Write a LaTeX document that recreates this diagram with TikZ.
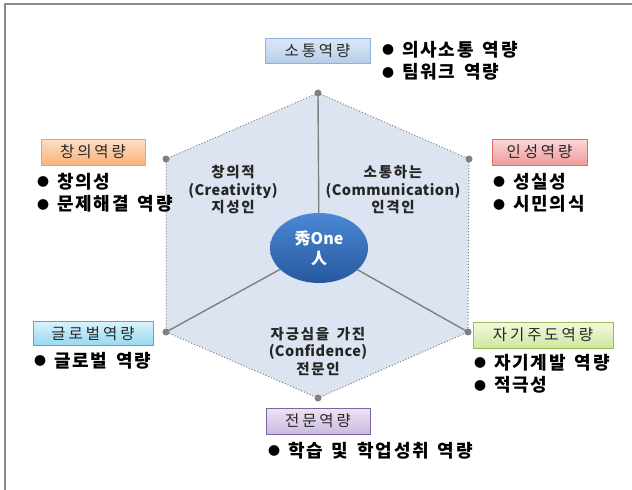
\documentclass[tikz,border=0pt]{standalone}
\usepackage{fontspec}
\setmainfont{Noto Sans CJK KR}
\newfontfamily\tagfont{Noto Sans CJK KR}[LetterSpace=19]
\newfontfamily\listfont{Noto Sans CJK KR}[LetterSpace=10,WordSpace=1.5]
\newfontfamily\innerfont{Noto Sans CJK KR}[LetterSpace=3]
\newfontfamily\innerko{Noto Sans CJK KR}[LetterSpace=12,WordSpace=1.5]
\newcommand{\blt}{\raisebox{1.5pt}{\fontsize{12}{12}\selectfont ●}\hspace{8pt}}
\usetikzlibrary{shapes.geometric}
\definecolor{framec}{RGB}{138,138,138}
\definecolor{hexc}{RGB}{219,228,240}
\definecolor{greyc}{RGB}{128,128,128}
\definecolor{inkc}{RGB}{38,38,38}
\definecolor{bluetop}{RGB}{220,231,245}\definecolor{bluebot}{RGB}{184,205,235}\definecolor{blueline}{RGB}{141,178,226}
\definecolor{orgtop}{RGB}{253,222,196}\definecolor{orgbot}{RGB}{249,178,124}\definecolor{orgline}{RGB}{244,160,96}
\definecolor{redtop}{RGB}{250,214,214}\definecolor{redbot}{RGB}{238,156,156}\definecolor{redline}{RGB}{224,110,110}
\definecolor{cyntop}{RGB}{218,242,251}\definecolor{cynbot}{RGB}{150,216,240}\definecolor{cynline}{RGB}{80,172,200}
\definecolor{grntop}{RGB}{243,249,222}\definecolor{grnbot}{RGB}{208,230,160}\definecolor{grnline}{RGB}{155,187,89}
\definecolor{purtop}{RGB}{236,228,244}\definecolor{purbot}{RGB}{204,186,226}\definecolor{purline}{RGB}{128,100,162}
\definecolor{onetop}{RGB}{74,137,212}\definecolor{onebot}{RGB}{40,88,158}

\begin{document}
\begin{tikzpicture}[x=1pt, y=-1pt,
  every node/.style={inner sep=0pt},
  tag/.style={draw=#1line, top color=#1top, bottom color=#1bot, line width=1pt,
              text=inkc, font=\tagfont\fontsize{15.5}{18}\selectfont},
  list/.style={anchor=north west, align=left, text=black,
               font=\listfont\fontsize{18}{22.5}\selectfont\bfseries},
  inner/.style={align=center, text=inkc, font=\innerfont\fontsize{14.5}{17.5}\selectfont\bfseries},
  spoke/.style={draw=greyc, line width=1.4pt},
  edge/.style={draw=greyc, dotted, line width=1pt}
]
\useasboundingbox (0,0) rectangle (632,490);
\draw[framec, line width=2pt] (5,490) -- (5,4) -- (632,4);

% hexagon
\coordinate (vt)  at (318,93);
\coordinate (vur) at (469,159);
\coordinate (vlr) at (468,332);
\coordinate (vb)  at (318,398);
\coordinate (vll) at (166,332);
\coordinate (vul) at (166,159);
\fill[hexc] (vt) -- (vur) -- (vlr) -- (vb) -- (vll) -- (vul) -- cycle;
\draw[edge] (vt) -- (vur) -- (vlr) -- (vb) -- (vll) -- (vul) -- cycle;

\node[ellipse, minimum width=98pt, minimum height=70pt, top color=onetop, bottom color=onebot,
      text=white, align=center, font=\fontsize{16}{20}\selectfont\bfseries] (one) at (319,248) {秀One\\人};
\draw[spoke] (one) -- (vt);
\draw[spoke] (one) -- (vll);
\draw[spoke] (one) -- (vlr);
\foreach \v in {vt,vur,vlr,vb,vll,vul}
  \fill[greyc] (\v) circle (3.5pt);

\node[inner] (crealbl) at (233,190) {{\innerko 창의적}\\(Creativity)\\{\innerko 지성인}};
\node[inner] (commlbl) at (393,190) {{\innerko 소통하는}\\(Communication)\\{\innerko 인격인}};
\node[inner] (proflbl) at (318,351) {{\innerko 자긍심을 가진}\\(Confidence)\\{\innerko 전문인}};

% competences
\node[tag=blue, minimum width=105pt, minimum height=25pt] (comm) at (317.5,50.5) {소통역량};
\node[tag=org,  minimum width=104pt, minimum height=26pt] (crea) at (93,152) {창의역량};
\node[tag=red,  minimum width=95pt,  minimum height=26pt] (pers) at (539.5,152) {인성역량};
\node[tag=cyn,  minimum width=120pt, minimum height=24pt] (glob) at (93,333.5) {글로벌역량};
\node[tag=grn,  minimum width=140pt, minimum height=26pt] (self) at (543,335) {자기주도역량};
\node[tag=pur,  minimum width=104pt, minimum height=26pt] (prof) at (318,421) {전문역량};

\node[list] (commlist) at (382,41) {\blt 의사소통 역량\\\blt 팀워크 역량};
\node[list] (crealist) at (37,173) {\blt 창의성\\\blt 문제해결 역량};
\node[list] (perslist) at (493,173) {\blt 성실성\\\blt 시민의식};
\node[list] (globlist) at (34,352) {\blt 글로벌 역량};
\node[list] (selflist) at (474,354) {\blt 자기계발 역량\\\blt 적극성};
\node[list] (proflist) at (268,442) {\blt 학습 및 학업성취 역량};
\end{tikzpicture}
\end{document}
